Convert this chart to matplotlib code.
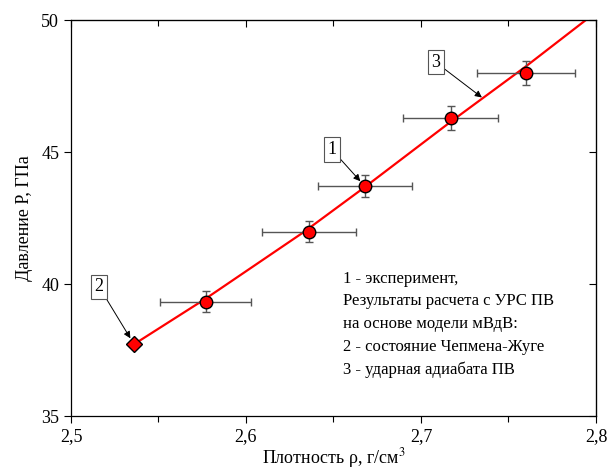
import matplotlib.pyplot as plt
from matplotlib.ticker import MultipleLocator, FuncFormatter

plt.rcParams['font.family'] = ['Liberation Serif', 'DejaVu Serif']
plt.rcParams['mathtext.fontset'] = 'stix'

# experiment (1)
rho_exp = [2.577, 2.636, 2.668, 2.717, 2.760]
p_exp = [39.33, 41.98, 43.70, 46.30, 48.00]
rho_err = [0.026, 0.027, 0.027, 0.027, 0.028]
p_err = [0.40, 0.40, 0.42, 0.45, 0.47]

# Chapman-Jouguet state (2)
rho_cj = [2.536]
p_cj = [37.72]

# shock adiabat (3)
rho_line = [2.536, 2.577, 2.633, 2.668, 2.717, 2.760, 2.800]
p_line = [37.72, 39.45, 41.97, 43.68, 46.15, 48.25, 50.3]

legend_text = ("1 - эксперимент,\n"
               "Результаты расчета с УРС ПВ\n"
               "на основе модели мВдВ:\n"
               "2 - состояние Чепмена-Жуге\n"
               "3 - ударная адиабата ПВ")

fig = plt.figure(figsize=(6.1, 4.68), dpi=100)
ax = fig.add_axes([0.1164, 0.111, 0.8606, 0.846])

ax.plot(rho_line, p_line, color='red', lw=1.6, zorder=2)
ax.errorbar(rho_exp, p_exp, xerr=rho_err, yerr=p_err, fmt='o', color='red',
            mec='black', mew=1.0, ms=9, ecolor='#555555', elinewidth=1.0,
            capsize=3, capthick=1.0, zorder=3)
ax.plot(rho_cj, p_cj, 'D', color='red', mec='black', mew=1.0, ms=8, zorder=4)

box = dict(boxstyle='square,pad=0.2', fc='white', ec='#555555', lw=0.8)
arrow = dict(arrowstyle='-|>', color='black', lw=0.7, mutation_scale=10,
             shrinkA=0, shrinkB=5)
ax.annotate('2', xy=(rho_cj[0], p_cj[0]), xytext=(2.516, 39.9),
            fontsize=13, ha='center', va='center', bbox=box, arrowprops=arrow)
ax.annotate('1', xy=(rho_exp[2], p_exp[2]), xytext=(2.649, 45.1),
            fontsize=13, ha='center', va='center', bbox=box, arrowprops=arrow)
ax.annotate('3', xy=(2.7348, 47.07), xytext=(2.7085, 48.4),
            fontsize=13, ha='center', va='center', bbox=box,
            arrowprops=dict(arrowstyle='-|>', color='black', lw=0.7,
                            mutation_scale=10, shrinkA=0, shrinkB=0))

ax.text(2.6553, 40.5, legend_text, fontsize=12, ha='left', va='top',
        linespacing=1.55)

ax.set_xlim(2.5, 2.8)
ax.set_ylim(35, 50)
ax.xaxis.set_major_locator(MultipleLocator(0.1))
ax.xaxis.set_minor_locator(MultipleLocator(0.05))
ax.yaxis.set_major_locator(MultipleLocator(5))
comma = FuncFormatter(lambda v, pos: f"{v:g}".replace('.', ','))
ax.xaxis.set_major_formatter(comma)
ax.yaxis.set_major_formatter(comma)
ax.tick_params(which='both', direction='out', labelsize=13, width=0.8)
ax.tick_params(which='major', length=5)
ax.tick_params(which='minor', length=4)

# mirrored ticks on top/right pointing inward
axt = ax.secondary_xaxis('top')
axt.xaxis.set_major_locator(MultipleLocator(0.1))
axt.xaxis.set_minor_locator(MultipleLocator(0.05))
axt.tick_params(which='both', direction='in', labeltop=False, width=0.8)
axt.tick_params(which='major', length=5)
axt.tick_params(which='minor', length=4)
axr = ax.secondary_yaxis('right')
axr.yaxis.set_major_locator(MultipleLocator(5))
axr.tick_params(direction='in', labelright=False, length=5, width=0.8)

for s in ax.spines.values():
    s.set_linewidth(0.9)

ax.set_xlabel(r"Плотность ρ, г/см$^3$", fontsize=13, labelpad=1)
ax.set_ylabel("Давление P, ГПа", fontsize=13, labelpad=6)

fig.savefig('out.png', dpi=100)
